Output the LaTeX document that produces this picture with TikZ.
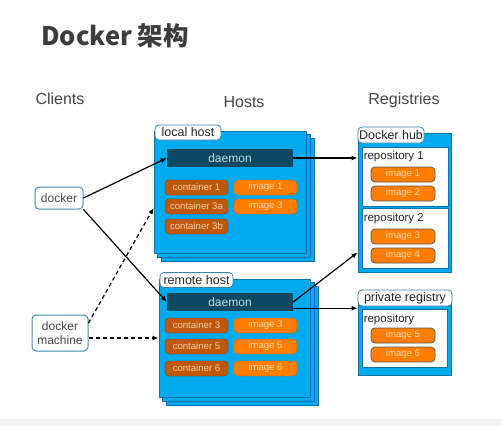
\documentclass[tikz,border=0pt]{standalone}
\usepackage{fontspec}
\setmainfont{Liberation Sans}
\newfontfamily\cjk{Noto Sans CJK SC}
\usetikzlibrary{arrows.meta,positioning,calc,backgrounds}
\definecolor{hostblue}{RGB}{0,170,236}
\definecolor{boxline}{RGB}{16,112,170}
\definecolor{tabline}{RGB}{60,130,170}
\definecolor{daemonteal}{RGB}{12,72,96}
\definecolor{daemontext}{RGB}{190,220,230}
\definecolor{contbrown}{RGB}{192,88,12}
\definecolor{contline}{RGB}{140,64,16}
\definecolor{conttext}{RGB}{245,205,170}
\definecolor{imgorange}{RGB}{255,125,0}
\definecolor{imgline}{RGB}{200,100,20}
\definecolor{imgtext}{RGB}{255,215,170}
\definecolor{regline}{RGB}{90,90,90}
\definecolor{clientline}{RGB}{70,140,170}
\definecolor{txtgrey}{RGB}{70,70,70}
\definecolor{txtdark}{RGB}{40,40,40}
\definecolor{titlegrey}{RGB}{60,60,60}
\definecolor{bottomgrey}{RGB}{244,244,244}
\begin{document}
\begin{tikzpicture}[x=1pt,y=-1pt,
  hostbox/.style={draw=boxline,fill=hostblue,line width=0.9pt,inner sep=0pt},
  tab/.style={draw=tabline,fill=white,rounded corners=4pt,line width=0.8pt,inner sep=0pt,minimum height=15,text=txtdark,font=\fontsize{12.5}{13}\selectfont},
  daemon/.style={fill=daemonteal,minimum width=126,minimum height=18,inner sep=0pt,text=daemontext,font=\fontsize{12}{13}\selectfont},
  cont/.style={draw=contline,fill=contbrown,rounded corners=4pt,minimum width=63,minimum height=15,inner sep=0pt,text=conttext,font=\fontsize{9.6}{10}\selectfont},
  img/.style={cont,draw=imgline,fill=imgorange,text=imgtext},
  regimg/.style={img,minimum width=64,draw=regline,line width=0.8pt},
  repo/.style={draw=boxline,fill=white,line width=0.9pt,inner sep=0pt},
  repotext/.style={anchor=west,inner sep=0pt,text=txtdark,font=\fontsize{11.5}{12}\selectfont},
  client/.style={draw=clientline,fill=white,rounded corners=4pt,line width=1pt,inner sep=0pt,align=center,text=txtgrey,font=\fontsize{12}{14}\selectfont},
  head/.style={text=txtgrey,font=\fontsize{16}{18}\selectfont},
  link/.style={line width=1.2pt,-{Latex[length=6pt,width=5pt]}}]
  \useasboundingbox (0,0) rectangle (502,426);
  \fill[bottomgrey] (0,419) rectangle (502,426);
  \node (TT) at (41,45) [anchor=base west,inner sep=0pt,text=titlegrey,font=\cjk\bfseries\fontsize{25.5}{27}\selectfont] {Docker 架构};
  \node (CL) at (60,99) [head] {Clients};
  \node (HS) at (244,102) [head] {Hosts};
  \node (RG) at (404,100) [head] {Registries};

  \node (LH) at (230,192) [hostbox,minimum width=152,minimum height=122] {};
  \node (RH) at (234.5,338) [hostbox,minimum width=151,minimum height=118] {};
  \begin{scope}[on background layer]
    \foreach \h in {LH,RH} \foreach \d in {8,4}
      \draw[hostbox] ($(\h.north west)+(\d,\d)$) rectangle ($(\h.south east)+(\d,\d)$);
  \end{scope}
  \node (LT) at (188,132.5) [tab,minimum width=66] {local host};
  \node (RT) at (196.5,280) [tab,minimum width=73] {remote host};
  \node (LD) at (230,158) [daemon] {daemon};
  \node (RD) at (230,302) [daemon] {daemon};
  \foreach \n/\y in {1/187.5,3a/206.5,3b/226.5} \node (LC\n) at (196.5,\y) [cont] {container \n};
  \foreach \n/\y in {1/187.5,3/206.5} \node (LI\n) at (265.5,\y) [img] {image \n};
  \foreach \n/\y in {3/325.5,5/346.5,6/368.5} {
    \node (RC\n) at (196.5,\y) [cont] {container \n};
    \node (RI\n) at (265.5,\y) [img] {image \n};
  }

  \node (HB) at (404.5,202.5) [hostbox,minimum width=93,minimum height=139] {};
  \node (HT) at (391,135) [tab,minimum width=66,minimum height=16] {Docker hub};
  \node (R1) at (405,176.5) [repo,minimum width=86,minimum height=59] {};
  \node (R2) at (405,238) [repo,minimum width=86,minimum height=60] {};
  \node (R1T) at ($(R1.north west)+(2,10)$) [repotext] {repository 1};
  \node (R2T) at ($(R2.north west)+(2,11)$) [repotext] {repository 2};
  \foreach \n/\y in {1/174.5,2/193.5,3/236.5,4/255.5} \node (HI\n) at (403,\y) [regimg] {image \n};

  \node (PB) at (404.5,335) [hostbox,minimum width=93,minimum height=80] {};
  \node (PT) at (405,298) [tab,minimum width=94,minimum height=16] {private registry};
  \node (PR) at (404.5,338) [repo,minimum width=85,minimum height=58] {};
  \node (PRT) at ($(PR.north west)+(2,11)$) [repotext] {repository};
  \foreach \n/\y in {5/335.5,6/354.5} \node (PI\n) at (403,\y) [regimg] {image \n};

  \node (DK) at (59,198) [client,minimum width=48,minimum height=22] {docker};
  \node (DM) at (60,333) [client,minimum width=56,minimum height=36] {docker\\machine};

  \draw[link] (DK.east) -- (LD.west);
  \draw[link] (DK.south east) -- (RD.west);
  \draw[link,dash pattern=on 4pt off 3pt] ($(DM.east)+(0,-10)$) -- ($(LH.west)+(0,16)$);
  \draw[link,dash pattern=on 4pt off 3pt] (DM.east |- RH.west) -- (RH.west);
  \draw[link] (LD.east) -- (HB.west |- LD.east);
  \draw[link] (RD.east) -- ($(HB.south west)+(0,-20)$);
  \draw[link] ($(RD.south east)+(0,-3)$) -- (PB.west |- {$(RD.south east)+(0,-3)$});
\end{tikzpicture}
\end{document}
